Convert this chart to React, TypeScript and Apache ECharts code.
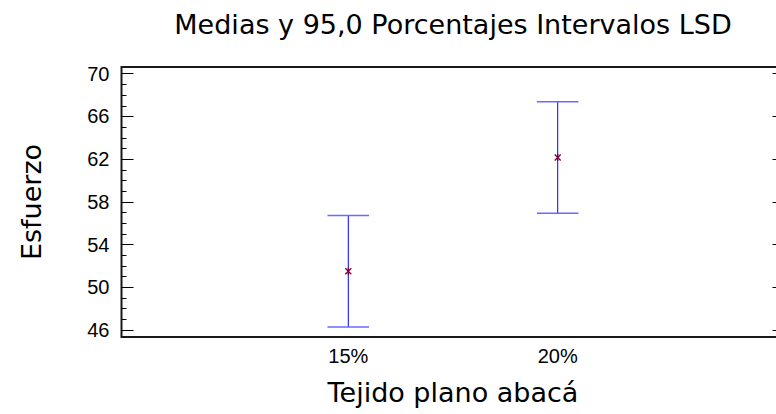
import React, { useEffect, useRef } from "react";
import * as echarts from "echarts";

// Group labels and the LSD interval for each group
const categories = ["15%", "20%"];
const means = [51.5, 62.15];
const lowerLimits = [46.28, 56.93];
const upperLimits = [56.72, 67.38];

// Y axis tick values
const yMajorTicks = [46, 50, 54, 58, 62, 66, 70];
const yMinorTicks = [
  47, 48, 49, 51, 52, 53, 55, 56, 57, 59, 60, 61, 63, 64, 65, 67, 68, 69,
];

const titleText = "Medias y 95,0 Porcentajes Intervalos LSD";
const xTitle = "Tejido plano abacá";
const yTitle = "Esfuerzo";

const FONT = "'Liberation Sans', Arial, sans-serif";
const TITLE_FONT = "'DejaVu Sans', 'Liberation Sans', sans-serif";

export default function App() {
  const ref = useRef<HTMLDivElement>(null);

  useEffect(() => {
    if (!ref.current) return;
    const chart = echarts.init(ref.current, undefined, { renderer: "svg" });

    const gridLeft = 121.5;
    const gridTop = 67;
    const gridWidth = 663;
    const gridHeight = 270;
    const gridCenterX = gridLeft + gridWidth / 2;

    const rows = categories.map((_, i) => [
      i,
      lowerLimits[i],
      upperLimits[i],
      means[i],
    ]);

    const blue = "#0000ff";
    const capBlue = "#6a6aff";
    const starColor = "#800040";

    const renderItem = (_params: any, api: any) => {
      const i = api.value(0);
      const lo = api.coord([i, api.value(1)]);
      const hi = api.coord([i, api.value(2)]);
      const mid = api.coord([i, api.value(3)]);
      const capHalf = 20.8;
      const s = 3;
      return {
        type: "group",
        children: [
          {
            type: "line",
            shape: { x1: lo[0], y1: lo[1], x2: hi[0], y2: hi[1] },
            style: { stroke: blue, lineWidth: 1 },
          },
          {
            type: "line",
            shape: { x1: hi[0] - capHalf, y1: hi[1], x2: hi[0] + capHalf, y2: hi[1] },
            style: { stroke: capBlue, lineWidth: 1.6 },
          },
          {
            type: "line",
            shape: { x1: lo[0] - capHalf, y1: lo[1], x2: lo[0] + capHalf, y2: lo[1] },
            style: { stroke: capBlue, lineWidth: 1.6 },
          },
          {
            type: "line",
            shape: { x1: mid[0], y1: mid[1] - s - 0.5, x2: mid[0], y2: mid[1] + s + 0.5 },
            style: { stroke: starColor, lineWidth: 1.3 },
          },
          {
            type: "line",
            shape: { x1: mid[0] - s, y1: mid[1] - s, x2: mid[0] + s, y2: mid[1] + s },
            style: { stroke: starColor, lineWidth: 1.3 },
          },
          {
            type: "line",
            shape: { x1: mid[0] - s, y1: mid[1] + s, x2: mid[0] + s, y2: mid[1] - s },
            style: { stroke: starColor, lineWidth: 1.3 },
          },
        ],
      };
    };

    const yRange = { min: 45.34, max: 70.63 };
    const noLine = { show: false, onZero: false };

    chart.setOption({
      animation: false,
      backgroundColor: "#ffffff",
      textStyle: { fontFamily: FONT },
      grid: {
        left: gridLeft,
        top: gridTop,
        width: gridWidth,
        height: gridHeight,
        show: true,
        borderColor: "#1a1a1a",
        borderWidth: 2,
        containLabel: false,
        outerBoundsMode: "none",
      },
      graphic: [
        {
          type: "text",
          x: gridCenterX,
          y: 24,
          style: {
            text: titleText,
            fontSize: 27,
            fontFamily: TITLE_FONT,
            fill: "#000",
            align: "center",
            verticalAlign: "middle",
          },
        },
        {
          type: "text",
          x: gridCenterX,
          y: 392,
          style: {
            text: xTitle,
            fontSize: 27,
            fontFamily: TITLE_FONT,
            fill: "#000",
            align: "center",
            verticalAlign: "middle",
          },
        },
        {
          type: "text",
          x: 31.5,
          y: gridTop + gridHeight / 2,
          rotation: Math.PI / 2,
          style: {
            text: yTitle,
            fontSize: 27,
            fontFamily: TITLE_FONT,
            fill: "#000",
            align: "center",
            verticalAlign: "middle",
          },
        },
      ],
      xAxis: {
        type: "value",
        min: -1.083,
        max: 2.083,
        axisLine: noLine,
        axisTick: { show: false },
        splitLine: { show: false },
        axisLabel: {
          customValues: [0, 1],
          formatter: (v: number) => categories[Math.round(v)] ?? "",
          fontSize: 20,
          fontFamily: FONT,
          color: "#000",
          verticalAlign: "middle",
          margin: 18.5,
        },
      },
      yAxis: [
        {
          type: "value",
          position: "left",
          ...yRange,
          axisLine: noLine,
          splitLine: { show: false },
          axisTick: {
            show: true,
            inside: true,
            length: 12,
            customValues: yMajorTicks,
            lineStyle: { color: "#000", width: 1 },
          },
          axisLabel: {
            customValues: yMajorTicks,
            fontSize: 20,
            fontFamily: FONT,
            color: "#000",
            margin: 12,
          },
        },
        {
          type: "value",
          position: "left",
          ...yRange,
          axisLine: noLine,
          splitLine: { show: false },
          axisLabel: { show: false },
          axisTick: {
            show: true,
            inside: true,
            length: 5,
            customValues: yMinorTicks,
            lineStyle: { color: "#000", width: 1 },
          },
        },
        {
          type: "value",
          position: "right",
          ...yRange,
          axisLine: noLine,
          splitLine: { show: false },
          axisLabel: { show: false },
          axisTick: {
            show: true,
            inside: true,
            length: 12,
            customValues: yMajorTicks,
            lineStyle: { color: "#000", width: 1 },
          },
        },
      ],
      series: [
        {
          type: "custom",
          xAxisIndex: 0,
          yAxisIndex: 0,
          renderItem,
          data: rows,
          encode: { x: 0, y: [1, 2, 3] },
        },
      ],
    });

    return () => {
      chart.dispose();
    };
  }, []);

  return (
    <div
      ref={ref}
      style={{ position: "absolute", left: 0, top: 0, width: 776, height: 414 }}
    />
  );
}
